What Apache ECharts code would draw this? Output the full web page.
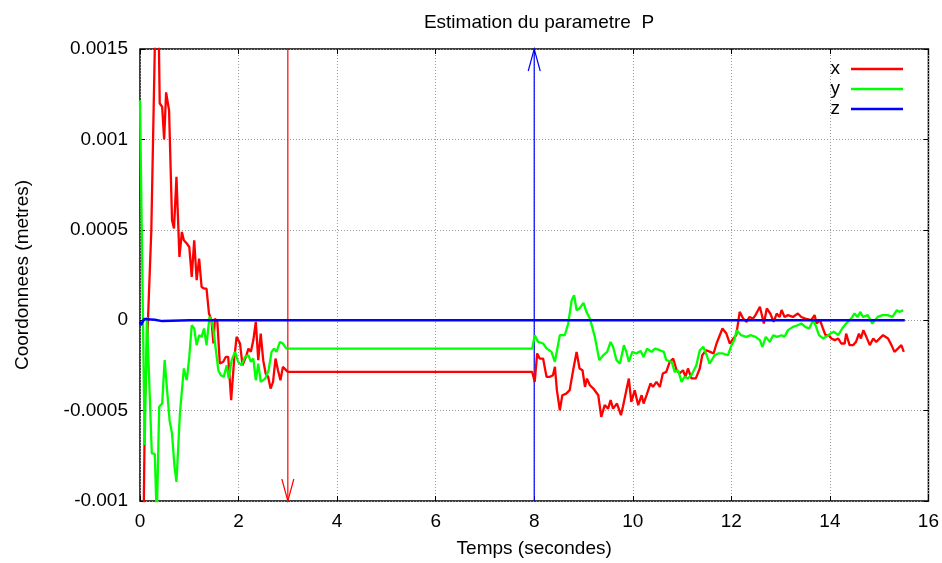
<!DOCTYPE html>
<html>
<head>
<meta charset="utf-8">
<script src="https://cdn.jsdelivr.net/npm/echarts@6/dist/echarts.min.js"></script>
<style>
html,body{margin:0;padding:0;background:#fff;}
#chart{width:942px;height:563px;}
</style>
</head>
<body>
<div id="chart"></div>
<script>
// values in units of 1e-3 m (tick labels carry the real values)
var titleText = 'Estimation du parametre  P';
var xName = 'Temps (secondes)';
var yName = 'Coordonnees (metres)';
var seriesNames = ['x', 'y', 'z'];
var yTickLabels = ['-0.001', '-0.0005', '0', '0.0005', '0.001', '0.0015'];
var xTickLabels = ['0', '2', '4', '6', '8', '10', '12', '14', '16'];

var xTimes = [0, 0.1, 0.23, 0.3, 0.34, 0.37, 0.4, 0.45, 0.49, 0.53, 0.59, 0.65, 0.69, 0.74, 0.8, 0.85, 0.89, 0.95, 1.0, 1.05, 1.1, 1.15, 1.2, 1.25, 1.3, 1.35, 1.4, 1.45, 1.49, 1.52, 1.57, 1.62, 1.69, 1.74, 1.79, 1.85, 1.91, 1.96, 2.03, 2.08, 2.15, 2.2, 2.25, 2.3, 2.35, 2.4, 2.45, 2.5, 2.55, 2.6, 2.65, 2.7, 2.75, 2.8, 2.85, 2.9, 2.94, 3.0, 7.96,
  8.01, 8.06, 8.11, 8.18, 8.25, 8.32, 8.38, 8.42, 8.46, 8.52, 8.57, 8.65, 8.72, 8.79, 8.86, 8.92, 8.98, 9.03, 9.07, 9.13, 9.2, 9.3, 9.36, 9.43, 9.5, 9.55, 9.6, 9.68, 9.76, 9.8, 9.87, 9.92, 9.97, 10.04, 10.11, 10.18, 10.22, 10.28, 10.36, 10.41, 10.48, 10.55, 10.61, 10.68, 10.75, 10.82, 10.89, 10.95, 11.02, 11.07, 11.12, 11.19, 11.28, 11.36, 11.41, 11.49, 11.57, 11.64, 11.7,
  11.82, 11.9, 11.97, 12.04, 12.1, 12.17, 12.24, 12.31, 12.37, 12.44, 12.49, 12.58, 12.66, 12.72, 12.79, 12.86, 12.92, 12.98, 13.02, 13.08, 13.15, 13.25, 13.35, 13.42, 13.5, 13.62, 13.69, 13.73, 13.8, 13.86, 13.91, 13.98, 14.03, 14.1, 14.17, 14.23, 14.3, 14.33, 14.4, 14.47, 14.53, 14.59, 14.63, 14.68, 14.74, 14.81, 14.88, 14.94, 15.01, 15.08, 15.18, 15.25, 15.31, 15.38, 15.45, 15.48, 15.5];
var xValues = [-3.0, -0.45, 0.5, 1.5, 1.9, 1.8, 1.2, 1.18, 1.0, 1.26, 1.16, 0.553, 0.507, 0.793, 0.35, 0.488, 0.442, 0.424, 0.405, 0.24, 0.442, 0.221, 0.341, 0.184, 0.175, 0.175, 0.037, 0.0, -0.129, 0.009, -0.009, -0.24, -0.23, -0.203, -0.203, -0.442, -0.221, -0.092, -0.129, -0.249, -0.203, -0.157, -0.175, -0.11, -0.009, -0.221, -0.074, -0.221, -0.295, -0.313, -0.378, -0.341, -0.212, -0.277, -0.332, -0.258, -0.249, -0.286, -0.286,
  -0.341, -0.184, -0.212, -0.212, -0.313, -0.313, -0.304, -0.258, -0.387, -0.498, -0.415, -0.406, -0.387, -0.277, -0.175, -0.267, -0.277, -0.369, -0.323, -0.36, -0.378, -0.415, -0.535, -0.47, -0.489, -0.442, -0.489, -0.461, -0.525, -0.479, -0.387, -0.323, -0.452, -0.387, -0.47, -0.415, -0.461, -0.415, -0.35, -0.369, -0.341, -0.369, -0.295, -0.286, -0.23, -0.212, -0.277, -0.295, -0.277, -0.313, -0.267, -0.322, -0.322, -0.267, -0.194, -0.166, -0.175, -0.184, -0.129,
  -0.046, -0.074, -0.129, -0.101, -0.083, 0.046, 0.009, -0.009, 0.018, 0.009, 0.028, 0.074, -0.018, 0.065, 0.037, -0.009, 0.037, 0.018, 0.056, 0.018, 0.028, 0.018, 0.037, 0.018, 0.009, 0.0, 0.028, -0.018, 0.0, -0.046, -0.083, -0.083, -0.101, -0.11, -0.101, -0.129, -0.129, -0.074, -0.138, -0.138, -0.12, -0.074, -0.101, -0.055, -0.092, -0.138, -0.101, -0.12, -0.101, -0.083, -0.101, -0.138, -0.175, -0.157, -0.138, -0.129, -0.175];

var yTimes = [0, 0.095, 0.14, 0.24, 0.3, 0.34, 0.39, 0.45, 0.5, 0.6, 0.65, 0.7, 0.74, 0.81, 0.89, 0.95, 1.0, 1.05, 1.1, 1.15, 1.2, 1.25, 1.3, 1.35, 1.41, 1.45, 1.49, 1.54, 1.59, 1.64, 1.7, 1.76, 1.8, 1.86, 1.93, 1.99, 2.06, 2.13, 2.2, 2.25, 2.3, 2.35, 2.4, 2.45, 2.54, 2.61, 2.67, 2.72, 2.77, 2.84, 2.9, 2.97, 7.96,
  8.01, 8.08, 8.18, 8.25, 8.35, 8.42, 8.52, 8.62, 8.69, 8.76, 8.81, 8.86, 8.92, 9.0, 9.06, 9.13, 9.23, 9.32, 9.4, 9.48, 9.55, 9.6, 9.67, 9.74, 9.82, 9.87, 9.92, 9.99, 10.07, 10.16, 10.22, 10.29, 10.38, 10.45, 10.55, 10.63, 10.68, 10.79, 10.85, 10.92, 10.99, 11.05, 11.12, 11.19, 11.29,
  11.36, 11.43, 11.5, 11.56, 11.66, 11.73, 11.83, 11.93, 11.99, 12.06, 12.11, 12.2, 12.3, 12.4, 12.49, 12.58, 12.63, 12.7, 12.78, 12.85, 12.93, 13.02, 13.08, 13.15, 13.25, 13.35, 13.42, 13.5, 13.58, 13.66, 13.71, 13.78, 13.86, 13.92, 14.01, 14.08, 14.17, 14.25, 14.33, 14.43, 14.5, 14.56, 14.62, 14.67, 14.77, 14.86, 14.9, 14.97, 15.07, 15.17, 15.27, 15.36, 15.41, 15.49];
var yValues = [1.217, -0.69, 0.018, -0.737, -0.74, -1.1, -0.479, -0.461, -0.221, -0.553, -0.627, -0.81, -0.894, -0.516, -0.267, -0.332, -0.203, -0.028, -0.046, -0.138, -0.083, -0.092, -0.046, -0.138, 0.018, 0.0, -0.055, -0.166, -0.277, -0.304, -0.313, -0.249, -0.323, -0.221, -0.175, -0.23, -0.249, -0.203, -0.194, -0.23, -0.212, -0.332, -0.24, -0.341, -0.323, -0.277, -0.175, -0.157, -0.175, -0.12, -0.129, -0.157, -0.157,
  -0.083, -0.12, -0.129, -0.156, -0.175, -0.23, -0.083, -0.083, -0.018, 0.11, 0.138, 0.055, 0.065, 0.096, 0.046, 0.009, -0.092, -0.221, -0.194, -0.175, -0.12, -0.147, -0.221, -0.24, -0.138, -0.175, -0.23, -0.175, -0.184, -0.17, -0.203, -0.157, -0.175, -0.157, -0.166, -0.175, -0.221, -0.23, -0.286, -0.277, -0.341, -0.313, -0.322, -0.304, -0.249,
  -0.166, -0.147, -0.194, -0.24, -0.194, -0.184, -0.184, -0.194, -0.147, -0.11, -0.055, -0.083, -0.092, -0.083, -0.092, -0.11, -0.147, -0.092, -0.12, -0.083, -0.092, -0.083, -0.092, -0.055, -0.037, -0.028, -0.018, -0.037, -0.046, 0.0, -0.028, -0.083, -0.101, -0.092, -0.074, -0.064, -0.083, -0.046, -0.018, 0.009, 0.037, 0.018, 0.046, 0.018, 0.028, -0.018, -0.009, 0.018, 0.028, 0.028, 0.018, 0.055, 0.046, 0.055];

var zTimes = [0, 0.02, 0.08, 0.3, 0.45, 1.0, 15.52];
var zValues = [-0.009, -0.028, 0.006, 0.003, -0.005, 0.0, 0.0];

// arrows: [xStart, yStart, xEnd, yEnd] (head at end)
var arrowRed = [3, 1.5, 3, -1];
var arrowBlue = [8, -1, 8, 1.5];

function pairs(t, v) { return t.map(function (tt, i) { return [tt, v[i]]; }); }

var FONT = 'Liberation Sans, Arial, sans-serif';
var chart = echarts.init(document.getElementById('chart'), null, { renderer: 'canvas' });

function arrowRender(color) {
  return function (params, api) {
    var p0 = api.coord([api.value(0), api.value(1)]);
    var p1 = api.coord([api.value(2), api.value(3)]);
    var dx = p1[0] - p0[0], dy = p1[1] - p0[1];
    var L = Math.sqrt(dx * dx + dy * dy) || 1;
    var ux = dx / L, uy = dy / L, nx = -uy, ny = ux;
    var hl = 22, hw = 6;
    var b = [p1[0] - ux * hl, p1[1] - uy * hl];
    return {
      type: 'group',
      children: [
        { type: 'line', shape: { x1: p0[0], y1: p0[1], x2: p1[0], y2: p1[1] }, style: { stroke: color, lineWidth: 1.2 } },
        { type: 'polyline', shape: { points: [[b[0] + nx * hw, b[1] + ny * hw], p1, [b[0] - nx * hw, b[1] - ny * hw]] }, style: { stroke: color, lineWidth: 1.2, fill: null } }
      ]
    };
  };
}

var gridLine = { show: true, lineStyle: { color: '#999', type: [1, 2], width: 1 } };
var tickStyle = { show: true, inside: true, length: 5, lineStyle: { color: '#000' } };

chart.setOption({
  animation: false,
  backgroundColor: '#fff',
  title: {
    text: titleText, left: 534, top: 8, textAlign: 'center',
    textStyle: { fontFamily: FONT, fontSize: 19, fontWeight: 'normal', color: '#000' }
  },
  legend: {
    data: seriesNames, orient: 'vertical', right: 34, top: 54, align: 'right',
    icon: 'rect', itemWidth: 52, itemHeight: 2.5, itemGap: 0,
    textStyle: { fontFamily: FONT, fontSize: 19, color: '#000', lineHeight: 20, padding: [0, 6, 0, 0] }
  },
  grid: { left: 140, right: 13, top: 49, bottom: 62, show: true, borderColor: '#000', borderWidth: 1.5, backgroundColor: 'transparent' },
  xAxis: [{
    type: 'value', min: 0, max: 16, interval: 2, position: 'bottom',
    name: xName, nameLocation: 'middle', nameGap: 38,
    nameTextStyle: { fontFamily: FONT, fontSize: 19, color: '#000' },
    axisLine: { show: false, onZero: false },
    axisTick: tickStyle,
    axisLabel: { margin: 11, fontFamily: FONT, fontSize: 19, color: '#000',
      formatter: function (v) { return xTickLabels[Math.round(v / 2)]; } },
    splitLine: gridLine
  }, {
    type: 'value', min: 0, max: 16, interval: 2, position: 'top',
    axisLine: { show: false, onZero: false }, axisLabel: { show: false },
    axisTick: tickStyle,
    splitLine: { show: false }
  }],
  yAxis: [{
    type: 'value', min: -1, max: 1.5, interval: 0.5, position: 'left',
    name: yName, nameLocation: 'middle', nameGap: 108, nameRotate: 90,
    nameTextStyle: { fontFamily: FONT, fontSize: 19, color: '#000' },
    axisLine: { show: false, onZero: false },
    axisTick: tickStyle,
    axisLabel: { margin: 12, fontFamily: FONT, fontSize: 19, color: '#000',
      formatter: function (v) { return yTickLabels[Math.round((v + 1) / 0.5)]; } },
    splitLine: gridLine
  }, {
    type: 'value', min: -1, max: 1.5, interval: 0.5, position: 'right',
    axisLine: { show: false, onZero: false }, axisLabel: { show: false },
    axisTick: tickStyle,
    splitLine: { show: false }
  }],
  series: [
    { type: 'custom', name: 'arrowRed', renderItem: arrowRender('#ff0000'), data: [arrowRed], encode: { x: [0, 2], y: [1, 3] }, z: 1, silent: true },
    { type: 'custom', name: 'arrowBlue', renderItem: arrowRender('#0000ff'), data: [arrowBlue], encode: { x: [0, 2], y: [1, 3] }, z: 1, silent: true },
    { name: 'x', type: 'line', data: pairs(xTimes, xValues), showSymbol: false, symbol: 'none', color: '#ff0000', lineStyle: { width: 2.3, color: '#ff0000' }, z: 2 },
    { name: 'y', type: 'line', data: pairs(yTimes, yValues), showSymbol: false, symbol: 'none', color: '#00ff00', lineStyle: { width: 2.3, color: '#00ff00' }, z: 3 },
    { name: 'z', type: 'line', data: pairs(zTimes, zValues), showSymbol: false, symbol: 'none', color: '#0000ff', lineStyle: { width: 2.5, color: '#0000ff' }, z: 4 }
  ]
});
</script>
</body>
</html>
